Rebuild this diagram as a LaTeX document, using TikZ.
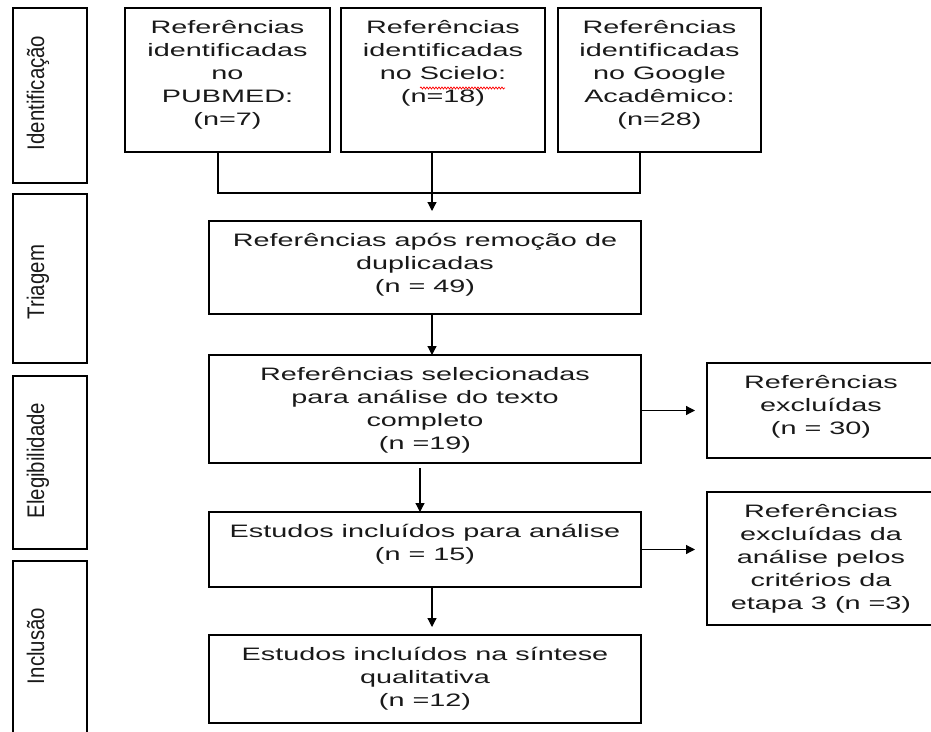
\documentclass[tikz,border=0pt]{standalone}
\usepackage{fontspec}
\setmainfont{Liberation Sans}
\usetikzlibrary{positioning, calc, arrows.meta, decorations.pathmorphing}

% wide box text and narrow stage text
\newcommand{\largo}[1]{\scalebox{1.6}[1]{\begin{tabular}{@{}c@{}}\rule{0pt}{18pt}#1\end{tabular}}}
\newcommand{\estreito}[1]{\scalebox{0.85}[1]{#1}}

\begin{document}
\begin{tikzpicture}[x=1pt, y=-1pt,
  every node/.append style={inner sep=0pt, outer sep=0pt},
  etapa/.style={draw, line width=1.3pt, minimum width=74pt},
  rot/.style={rotate=90, anchor=base, font=\fontsize{24}{28}\selectfont, text=black!90},
  caixa/.style={draw, line width=1.3pt},
  txt/.style={font=\fontsize{18}{23}\selectfont, text=black!90},
  arr/.style={-{Triangle[width=9pt, length=9pt]}, line width=1.2pt},
  lig/.style={line width=1.2pt},
]
\useasboundingbox (0,0) rectangle (931,731);

%% ─── stage labels on the left ───────────────────────────────────────────────
\node[etapa, minimum height=175pt] (eid)  at (50, 95.5)  {};
\node[etapa, minimum height=169pt] (etri) at (50, 278.5) {};
\node[etapa, minimum height=173pt] (eele) at (50, 462.5) {};
\node[etapa, minimum height=180pt] (einc) at (50, 651)   {};
\node[rot] (tid)  at (44, 93)    {\estreito{Identificação}};
\node[rot] (ttri) at (44, 282)   {\estreito{Triagem}};
\node[rot] (tele) at (44, 460.5) {\estreito{Elegibilidade}};
\node[rot] (tinc) at (44, 646)   {\estreito{Inclusão}};

%% ─── identification: three sources ──────────────────────────────────────────
\node[caixa, minimum width=205pt, minimum height=144pt] (pub) at (227.5, 80) {};
\node[caixa, minimum width=204pt, minimum height=144pt] (sci) at (443, 80)   {};
\node[caixa, minimum width=203pt, minimum height=144pt] (goo) at (659.5, 80) {};
\node[txt, below=7pt of pub.north] (tpub) {\largo{Referências\\identificadas\\no\\PUBMED:\\(n=7)}};
\node[txt, below=7pt of sci.north] (tsci) {\largo{Referências\\identificadas\\no Scielo:\\(n=18)}};
\node[txt, below=7pt of goo.north] (tgoo) {\largo{Referências\\identificadas\\no Google\\Acadêmico:\\(n=28)}};
\draw[red, line width=0.7pt, decorate, decoration={snake, amplitude=1pt, segment length=3pt}]
  ($(sci.north)+(-23,80)$) -- ($(sci.north)+(62,80)$);

%% ─── main column ────────────────────────────────────────────────────────────
\node[caixa, minimum width=432pt, minimum height=93pt]  (tri) at (425, 267.5) {};
\node[caixa, minimum width=432pt, minimum height=108pt] (sel) at (425, 409)   {};
\node[caixa, minimum width=432pt, minimum height=75pt]  (est) at (425, 549.5) {};
\node[caixa, minimum width=432pt, minimum height=88pt]  (sin) at (425, 679)   {};
\node[txt, below=7pt of tri.north] (ttri2) {\largo{Referências após remoção de\\duplicadas\\(n = 49)}};
\node[txt, below=7pt of sel.north] (tsel)  {\largo{Referências selecionadas\\para análise do texto\\completo\\(n =19)}};
\node[txt, below=7pt of est.north] (test)  {\largo{Estudos incluídos para análise\\(n = 15)}};
\node[txt, below=7pt of sin.north] (tsin)  {\largo{Estudos incluídos na síntese\\qualitativa\\(n =12)}};

%% ─── exclusions on the right ────────────────────────────────────────────────
\node[caixa, minimum width=228pt, minimum height=95pt]  (exc1) at (821, 410.5) {};
\node[caixa, minimum width=228pt, minimum height=133pt] (exc2) at (821, 558.5) {};
\node[txt, below=7pt of exc1.north] (texc1) {\largo{Referências\\excluídas\\(n = 30)}};
\node[txt, below=7pt of exc2.north] (texc2) {\largo{Referências\\excluídas da\\análise pelos\\critérios da\\etapa 3 (n =3)}};

%% ─── connectors ─────────────────────────────────────────────────────────────
\draw[lig] ([xshift=-9.5pt]pub.south) -- ++(0,41) -| ([xshift=-19.5pt]goo.south);
\draw[arr] ([xshift=-11pt]sci.south) -- ([xshift=7pt, yshift=10pt]tri.north);
\draw[arr] ([xshift=7pt]tri.south) -- ([xshift=7pt]sel.north);
\draw[arr] ([xshift=-5pt, yshift=-5pt]sel.south) -- ([xshift=-5pt]est.north);
\draw[arr] ([xshift=7pt]est.south) -- ([xshift=7pt, yshift=8pt]sin.north);
\draw[arr] (sel.east |- exc1.west) -- ([xshift=-12pt]exc1.west);
\draw[arr] (est.east) -- ([xshift=-12pt]exc2.west |- est.east);

\end{tikzpicture}
\end{document}
